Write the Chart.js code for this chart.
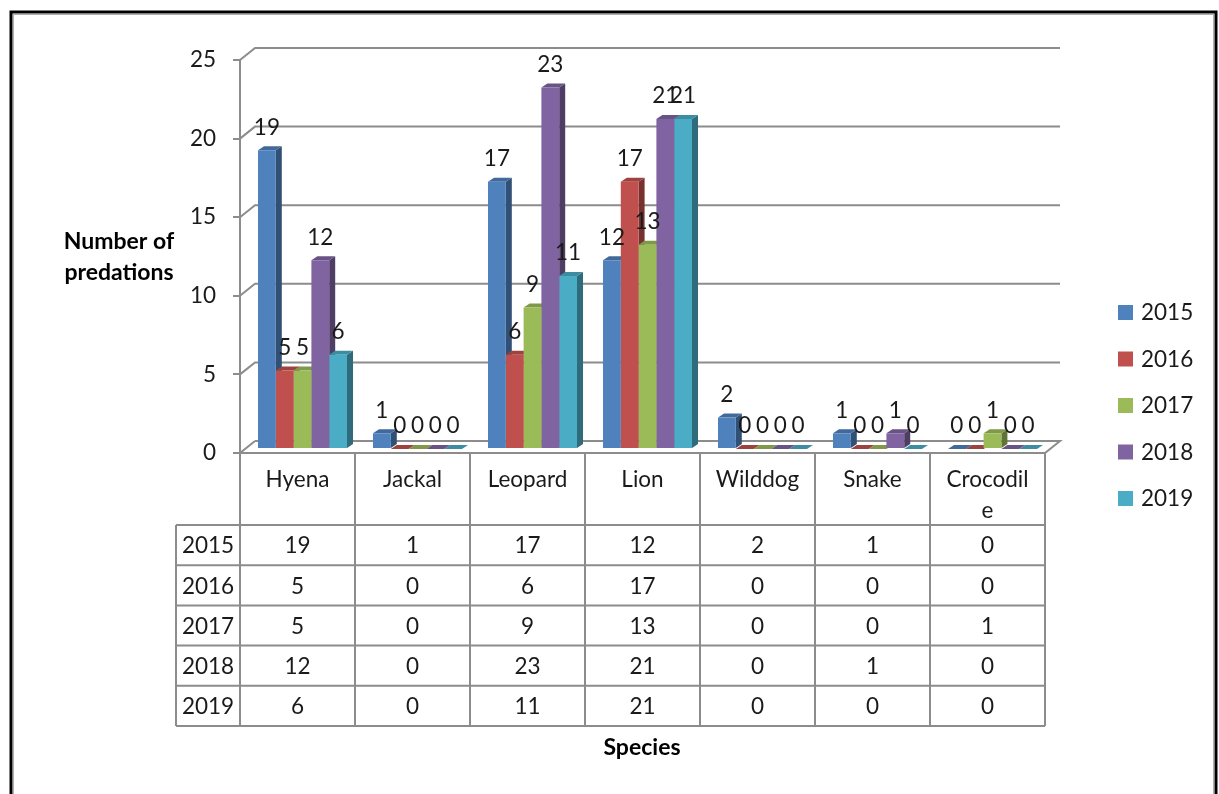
<!DOCTYPE html>
<html>
<head>
<meta charset="utf-8">
<script src="https://cdn.jsdelivr.net/npm/chart.js@4.4.1/dist/chart.umd.min.js"></script>
<style>
  body { margin: 0; background: #fff; }
  canvas { display: block; }
</style>
</head>
<body>
<canvas id="chart" width="1219" height="794"></canvas>
<script>
// data
var species = ['Hyena', 'Jackal', 'Leopard', 'Lion', 'Wilddog', 'Snake', 'Crocodile'];
var speciesHeader = [['Hyena'], ['Jackal'], ['Leopard'], ['Lion'], ['Wilddog'], ['Snake'], ['Crocodil', 'e']];
var years = ['2015', '2016', '2017', '2018', '2019'];
var v2015 = [19, 1, 17, 12, 2, 1, 0];
var v2016 = [5, 0, 6, 17, 0, 0, 0];
var v2017 = [5, 0, 9, 13, 0, 0, 1];
var v2018 = [12, 0, 23, 21, 0, 1, 0];
var v2019 = [6, 0, 11, 21, 0, 0, 0];
var yTicks = [0, 5, 10, 15, 20, 25];

var colors = ['#4F81BD', '#C0504D', '#9BBB59', '#8064A2', '#4BACC6'];
var gridColor = '#8c8c8c';
var textColor = '#1a1a1a';
var fontName = 'Lato, "Open Sans", sans-serif';
var fontSize = 22.5;

// 3d look
var wall = { x: 15, y: -12 };     // back wall offset
var shift = { x: 5, y: -4 };      // bars sit a bit into the floor
var bd = { x: 6, y: -4 };         // bar depth

function shade(hex, f) {
  var n = parseInt(hex.slice(1), 16);
  var r = Math.round(((n >> 16) & 255) * f);
  var g = Math.round(((n >> 8) & 255) * f);
  var b = Math.round((n & 255) * f);
  return 'rgb(' + r + ',' + g + ',' + b + ')';
}

function poly(ctx, pts) {
  ctx.beginPath();
  ctx.moveTo(pts[0][0], pts[0][1]);
  for (var i = 1; i < pts.length; i++) ctx.lineTo(pts[i][0], pts[i][1]);
  ctx.closePath();
  ctx.fill();
}

var threeD = {
  id: 'threeD',
  beforeDraw: function (chart) {
    var ctx = chart.ctx;
    ctx.save();
    ctx.fillStyle = '#fff';
    ctx.fillRect(0, 0, chart.width, chart.height);
    ctx.strokeStyle = '#000';
    ctx.lineWidth = 3;
    ctx.strokeRect(11, 12, 1205, 900);
    ctx.strokeStyle = '#b0b0b0';
    ctx.lineWidth = 1;
    ctx.strokeRect(13.5, 14.5, 1200, 900);
    ctx.restore();
  },
  beforeDatasetsDraw: function (chart) {
    var ctx = chart.ctx, a = chart.chartArea, y = chart.scales.y;
    var p0 = y.getPixelForValue(0);

    ctx.save();
    ctx.strokeStyle = gridColor;
    ctx.lineWidth = 2;
    yTicks.forEach(function (v) {
      var py = y.getPixelForValue(v);
      ctx.beginPath();
      ctx.moveTo(a.left, py);
      ctx.lineTo(a.left + wall.x, py + wall.y);
      if (v > 0) ctx.lineTo(a.right + wall.x, py + wall.y);
      ctx.stroke();
    });
    // floor
    ctx.beginPath();
    ctx.moveTo(a.left + wall.x, p0 + wall.y);
    ctx.lineTo(a.right + wall.x, p0 + wall.y);
    ctx.lineTo(a.right, p0);
    ctx.lineTo(a.left, p0);
    ctx.stroke();
    ctx.restore();

    // side and top faces, fronts come from the library
    ctx.save();
    ctx.translate(shift.x, shift.y);
    chart.data.datasets.forEach(function (ds, i) {
      chart.getDatasetMeta(i).data.forEach(function (bar) {
        var p = bar.getProps(['x', 'y', 'base', 'width'], true);
        var l = p.x - p.width / 2, r = p.x + p.width / 2;
        ctx.fillStyle = shade(colors[i], 0.62);
        poly(ctx, [[r, p.y], [r + bd.x, p.y + bd.y], [r + bd.x, p.base + bd.y], [r, p.base]]);
        ctx.fillStyle = shade(colors[i], 0.82);
        poly(ctx, [[l, p.y], [l + bd.x, p.y + bd.y], [r + bd.x, p.y + bd.y], [r, p.y]]);
      });
    });
  },
  afterDatasetsDraw: function (chart) {
    var ctx = chart.ctx;
    ctx.restore();

    // value labels
    ctx.save();
    ctx.font = fontSize + 'px ' + fontName;
    ctx.fillStyle = textColor;
    ctx.textAlign = 'center';
    ctx.textBaseline = 'middle';
    chart.data.datasets.forEach(function (ds, i) {
      chart.getDatasetMeta(i).data.forEach(function (bar, j) {
        var p = bar.getProps(['x', 'y'], true);
        ctx.fillText(String(ds.data[j]), p.x + shift.x, p.y + shift.y - 23);
      });
    });
    ctx.restore();
  },
  afterDraw: function (chart) {
    var ctx = chart.ctx, a = chart.chartArea, x = chart.scales.x, y = chart.scales.y;
    var p0 = y.getPixelForValue(0);
    var half = (x.getPixelForValue(1) - x.getPixelForValue(0)) / 2;
    var headBottom = 525, rowH = 40.2, colLeft = 176;
    var tableBottom = headBottom + rowH * years.length;

    // data table
    ctx.save();
    ctx.strokeStyle = gridColor;
    ctx.lineWidth = 2;
    ctx.beginPath();
    for (var c = 0; c <= species.length; c++) {
      var cx = c === species.length ? a.right : x.getPixelForValue(c) - half;
      ctx.moveTo(cx, p0);
      ctx.lineTo(cx, tableBottom);
    }
    ctx.moveTo(colLeft, headBottom);
    ctx.lineTo(colLeft, tableBottom);
    for (var r = 0; r <= years.length; r++) {
      var ry = headBottom + r * rowH;
      ctx.moveTo(colLeft, ry);
      ctx.lineTo(a.right, ry);
    }
    ctx.stroke();

    ctx.font = fontSize + 'px ' + fontName;
    ctx.fillStyle = textColor;
    ctx.textAlign = 'center';
    ctx.textBaseline = 'middle';
    speciesHeader.forEach(function (lines, j) {
      lines.forEach(function (t, k) {
        ctx.fillText(t, x.getPixelForValue(j), 480 + k * 31);
      });
    });
    chart.data.datasets.forEach(function (ds, i) {
      var cy = headBottom + rowH * (i + 0.5) + 1;
      ctx.fillText(ds.label, (colLeft + a.left) / 2, cy);
      ds.data.forEach(function (v, j) {
        ctx.fillText(String(v), x.getPixelForValue(j), cy);
      });
    });

    // legend
    ctx.textAlign = 'left';
    years.forEach(function (yr, i) {
      var ly = 312 + i * 46.5;
      ctx.fillStyle = colors[i];
      ctx.fillRect(1118, ly - 7, 15, 15);
      ctx.fillStyle = textColor;
      ctx.fillText(yr, 1141, ly + 1);
    });

    // axis titles
    ctx.font = 'bold 23px ' + fontName;
    ctx.fillStyle = '#000';
    ctx.textAlign = 'center';
    ctx.fillText('Number of', 119, 242);
    ctx.fillText('predations', 119, 273);
    ctx.fillText('Species', 642, 748);
    ctx.restore();
  }
};

var series = [v2015, v2016, v2017, v2018, v2019];

new Chart(document.getElementById('chart'), {
  type: 'bar',
  data: {
    labels: species,
    datasets: years.map(function (yr, i) {
      return {
        label: yr,
        data: series[i],
        backgroundColor: colors[i],
        borderWidth: 0
      };
    })
  },
  options: {
    responsive: false,
    animation: false,
    layout: { padding: { top: 60, right: 174, left: 0, bottom: 0 } },
    datasets: { bar: { categoryPercentage: 0.774, barPercentage: 1 } },
    plugins: {
      legend: { display: false },
      tooltip: { enabled: false }
    },
    scales: {
      x: {
        ticks: { display: false },
        grid: { display: false },
        border: { display: false },
        afterFit: function (s) { s.height = 341; }
      },
      y: {
        min: 0,
        max: 25,
        afterBuildTicks: function (s) { s.ticks = yTicks.map(function (v) { return { value: v }; }); },
        ticks: { padding: 17, color: textColor, font: { family: fontName, size: fontSize } },
        grid: { drawOnChartArea: false, tickLength: 7, color: gridColor, lineWidth: 2 },
        border: { color: gridColor, width: 2 },
        afterFit: function (s) { s.width = 240; }
      }
    }
  },
  plugins: [threeD]
});
</script>
</body>
</html>
